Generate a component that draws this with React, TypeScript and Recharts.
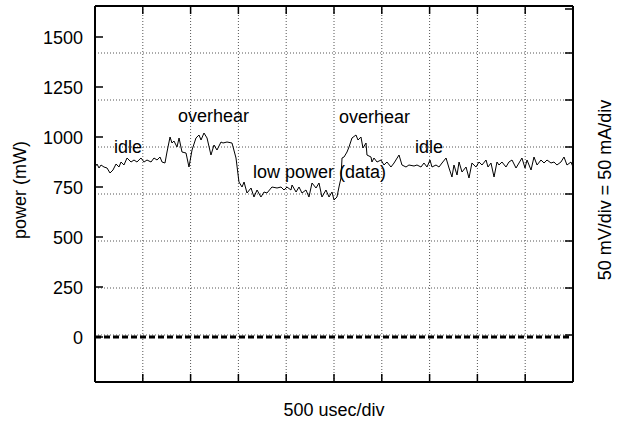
import React from 'react';
import {
  LineChart,
  Line,
  XAxis,
  YAxis,
  CartesianGrid,
  ReferenceLine,
  ReferenceDot,
} from 'recharts';

// time in microseconds (500 usec per division)
const timeUs = [
  0, 21, 42, 63, 94, 126, 157, 188, 220, 251, 272, 303, 335, 377, 408, 439, 481, 513, 544, 586,
  617, 649, 680, 701, 732, 753, 785, 805, 826, 858, 879, 910, 952, 983, 1015, 1056, 1088, 1109,
  1140, 1172, 1213, 1245, 1276, 1318, 1339, 1381, 1433, 1475, 1506, 1538, 1559, 1590, 1632, 1663,
  1695, 1736, 1768, 1799, 1851, 1904, 1946, 1977, 2008, 2050, 2061, 2103, 2134, 2165, 2207, 2238,
  2270, 2312, 2343, 2374, 2416, 2448, 2479, 2500, 2531, 2552, 2573, 2584, 2605, 2636, 2657, 2688,
  2730, 2751, 2782, 2803, 2835, 2845, 2887, 2897, 2918, 2950, 2992, 3023, 3054, 3096, 3128, 3180,
  3211, 3253, 3284, 3337, 3368, 3410, 3441, 3473, 3504, 3525, 3567, 3598, 3630, 3672, 3703, 3734,
  3755, 3787, 3808, 3839, 3881, 3912, 3943, 3985, 4017, 4048, 4090, 4111, 4142, 4174, 4205, 4226,
  4257, 4299, 4330, 4362, 4404, 4435, 4466, 4498, 4519, 4561, 4592, 4624, 4665, 4697, 4728, 4770,
  4801, 4832, 4874, 4906, 4937, 4979, 5000,
];

// power in mW
const powerMw = [
  850, 865, 845, 860, 850, 845, 820, 835, 865, 850, 875, 860, 895, 875, 885, 875, 895, 875, 885, 875,
  895, 885, 900, 875, 870, 925, 1000, 970, 980, 950, 995, 925, 920, 850, 935, 995, 1010, 985,
  1020, 995, 910, 960, 935, 975, 970, 975, 970, 895, 775, 750, 775, 720, 745, 700,
  735, 700, 725, 720, 750, 745, 750, 735, 750, 735, 760, 725, 750, 720, 735, 700,
  770, 745, 770, 700, 735, 700, 725, 685, 700, 750, 795, 895, 900, 925, 950, 995,
  1010, 985, 1000, 945, 970, 910, 900, 875, 895, 875, 885, 860, 875, 850, 870, 910,
  860, 850, 860, 855, 860, 850, 870, 850, 885, 850, 860, 850, 870, 895, 845, 800,
  860, 810, 875, 825, 850, 795, 870, 850, 875, 860, 885, 850, 870, 800, 875, 860,
  875, 850, 875, 885, 845, 870, 895, 845, 885, 835, 900, 860, 885, 870, 885, 870,
  875, 860, 875, 900, 860, 875, 850,
];

const powerTicks = [0, 250, 500, 750, 1000, 1250, 1500];
const timeTicks = [0, 500, 1000, 1500, 2000, 2500, 3000, 3500, 4000, 4500, 5000];
const divTicks = [0, 1, 2, 3, 4, 5, 6, 7, 8];

const noteText = ['idle', 'overhear', 'low power (data)', 'overhear', 'idle'];
const noteTime = [199, 868, 1653, 2552, 3347];
const notePower = [920, 1075, 795, 1072, 920];

const data = timeUs.map((t, i) => ({ t, p: powerMw[i] }));

const FONT = '"Liberation Sans", Arial, Helvetica, sans-serif';
const FS = 18;

const LeftTick = (props: any) => {
  const { x, y, payload } = props;
  return (
    <g>
      <text x={x} y={y} dy={6.5} textAnchor="end" fontSize={FS} fontFamily={FONT} fill="#000">
        {payload.value}
      </text>
      <line x1={x + 12} x2={x + 20} y1={y} y2={y} stroke="#000" strokeWidth={1.5} />
    </g>
  );
};

const RightTick = (props: any) => {
  const { x, y } = props;
  return <line x1={x - 8} x2={x} y1={y} y2={y} stroke="#000" strokeWidth={1.5} />;
};

const BottomTick = (props: any) => {
  const { x, y } = props;
  return <line x1={x} x2={x} y1={y - 8} y2={y} stroke="#000" strokeWidth={1.5} />;
};

const TopTick = (props: any) => {
  const { x, y } = props;
  return <line x1={x} x2={x} y1={y} y2={y + 8} stroke="#000" strokeWidth={1.5} />;
};

export default function App() {
  return (
    <div style={{ position: 'absolute', left: 0, top: 0, background: '#fff' }}>
      <LineChart width={621} height={427} data={data} margin={{ top: 0, right: 0, bottom: 0, left: 0 }}>
        <XAxis
          xAxisId="top"
          orientation="top"
          type="number"
          dataKey="t"
          domain={[0, 5000]}
          ticks={timeTicks}
          height={6}
          allowDataOverflow
          tickLine={false}
          tickSize={0}
          tickMargin={0}
          tick={<TopTick />}
          axisLine={{ stroke: '#000', strokeWidth: 2 }}
        />
        <XAxis
          type="number"
          dataKey="t"
          domain={[0, 5000]}
          ticks={timeTicks}
          height={45}
          allowDataOverflow
          tickLine={false}
          tickSize={0}
          tickMargin={0}
          tick={<BottomTick />}
          axisLine={{ stroke: '#000', strokeWidth: 2 }}
          label={{
            content: (p: any) => {
              const vb = p.viewBox;
              return (
                <text
                  x={vb.x + vb.width / 2}
                  y={vb.y + 34}
                  textAnchor="middle"
                  fontSize={FS}
                  fontFamily={FONT}
                  fill="#000"
                >
                  500 usec/div
                </text>
              );
            },
          }}
        />
        <YAxis
          yAxisId="mw"
          orientation="left"
          type="number"
          domain={[-225, 1655]}
          ticks={powerTicks}
          width={95}
          allowDataOverflow
          tickLine={false}
          tickSize={0}
          tickMargin={12}
          tick={<LeftTick />}
          axisLine={{ stroke: '#000', strokeWidth: 2 }}
          label={{
            content: (p: any) => {
              const vb = p.viewBox;
              const cx = vb.x + 20;
              const cy = vb.y + vb.height / 2 - 4;
              return (
                <text
                  x={cx}
                  y={cy}
                  textAnchor="middle"
                  dominantBaseline="central"
                  transform={`rotate(-90 ${cx} ${cy})`}
                  fontSize={FS}
                  fontFamily={FONT}
                  fill="#000"
                >
                  power (mW)
                </text>
              );
            },
          }}
        />
        <YAxis
          orientation="right"
          type="number"
          domain={[0, 8]}
          ticks={divTicks}
          width={48}
          allowDataOverflow
          tickLine={false}
          tickSize={0}
          tickMargin={0}
          tick={<RightTick />}
          axisLine={{ stroke: '#000', strokeWidth: 2 }}
          label={{
            content: (p: any) => {
              const vb = p.viewBox;
              const cx = vb.x + 32;
              const cy = vb.y + vb.height / 2 - 4;
              return (
                <text
                  x={cx}
                  y={cy}
                  textAnchor="middle"
                  dominantBaseline="central"
                  transform={`rotate(-90 ${cx} ${cy})`}
                  fontSize={FS}
                  fontFamily={FONT}
                  fill="#000"
                >
                  50 mV/div = 50 mA/div
                </text>
              );
            },
          }}
        />
        <CartesianGrid stroke="#555" strokeDasharray="1 2" strokeWidth={1} />
        <ReferenceLine yAxisId="mw" y={0} stroke="#000" strokeWidth={3} strokeDasharray="6 3" />
        <Line
          yAxisId="mw"
          type="linear"
          dataKey="p"
          stroke="#000"
          strokeWidth={1}
          dot={false}
          isAnimationActive={false}
        />
        {noteText.map((txt, i) => (
          <ReferenceDot
            key={i}
            yAxisId="mw"
            x={noteTime[i]}
            y={notePower[i]}
            r={0}
            fill="none"
            stroke="none"
            label={{
              content: (p: any) => {
                const vb = p.viewBox;
                return (
                  <text x={vb.x} y={vb.y} fontSize={FS} fontFamily={FONT} fill="#000">
                    {txt}
                  </text>
                );
              },
            }}
          />
        ))}
      </LineChart>
    </div>
  );
}
